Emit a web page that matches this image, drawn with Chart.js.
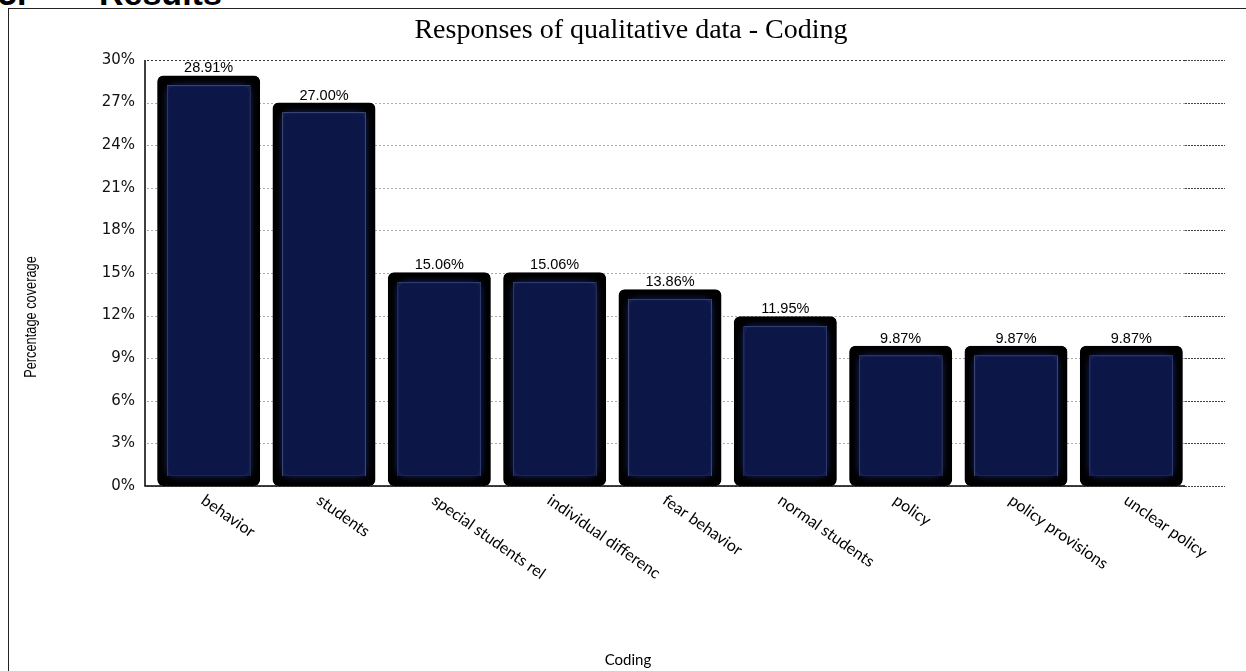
<!DOCTYPE html>
<html>
<head>
<meta charset="utf-8">
<script src="https://cdn.jsdelivr.net/npm/chart.js@4"></script>
<style>
  body { margin: 0; background: #fff; overflow: hidden; }
  #wrap { position: relative; width: 1246px; height: 671px; }
  #frame { position: absolute; left: 8px; top: 8px; width: 1260px; height: 700px; border: 1.5px solid #222; box-sizing: border-box; }
  .head { position: absolute; top: -26px; font: bold 34px "Liberation Sans", Arial, sans-serif; color: #000; }
  canvas { position: absolute; left: 0; top: 0; }
</style>
</head>
<body>
<div id="wrap">
  <div class="head" style="left:-2px">5.</div>
  <div class="head" style="left:99px">Results</div>
  <div id="frame"></div>
  <canvas id="codingChart" width="1246" height="671"></canvas>
</div>
<script>
const categories = [
  "behavior", "students", "special students rel", "individual differenc",
  "fear behavior", "normal students", "policy", "policy provisions", "unclear policy"
];
const coverage = [28.91, 27.00, 15.06, 15.06, 13.86, 11.95, 9.87, 9.87, 9.87];
const yMax = 30;
const yStep = 3;

const chartTitle = "Responses of qualitative data - Coding";
const xTitle = "Coding";
const yTitle = "Percentage coverage";

// axis lines sit a few px left of where the bars start, so draw them here
const axisLines = {
  id: "axisLines",
  beforeDatasetsDraw(chart) {
    const { ctx, chartArea, scales } = chart;
    const left = chartArea.left - 6;
    ctx.save();
    ctx.lineWidth = 1;
    scales.y.ticks.forEach((t) => {
      const y = Math.round(scales.y.getPixelForValue(t.value)) + 0.5;
      ctx.setLineDash([2, 2]);
      ctx.strokeStyle = t.value === yMax ? "#333" : "#aaa";
      ctx.beginPath();
      ctx.moveTo(left + 2, y);
      ctx.lineTo(chartArea.right - 4, y);
      ctx.stroke();
      ctx.setLineDash([2, 1]);
      ctx.strokeStyle = "#444";
      ctx.beginPath();
      ctx.moveTo(chartArea.right - 4, y);
      ctx.lineTo(chartArea.right + 36, y);
      ctx.stroke();
    });
    ctx.setLineDash([]);
    ctx.strokeStyle = "#000";
    ctx.lineWidth = 1.5;
    ctx.beginPath();
    ctx.moveTo(left, chartArea.top);
    ctx.lineTo(left, chartArea.bottom);
    ctx.lineTo(chartArea.right - 4, chartArea.bottom);
    ctx.stroke();
    ctx.restore();
  },
};

const textLayer = {
  id: "textLayer",
  afterDatasetsDraw(chart) {
    const { ctx, chartArea, scales } = chart;
    const meta = chart.getDatasetMeta(0);
    ctx.save();

    // soft inner glow on the bars
    meta.data.forEach((bar) => {
      const w = bar.width - 22;
      const left = bar.x - w / 2;
      const top = bar.y + 11;
      const h = bar.base - 11 - top;
      ctx.save();
      ctx.shadowColor = "rgba(35,55,140,0.9)";
      ctx.shadowBlur = 8;
      ctx.fillStyle = "#0d1747";
      ctx.beginPath();
      ctx.roundRect(left, top, w, h, 6);
      ctx.fill();
      ctx.restore();
    });

    // value labels
    ctx.fillStyle = "#000";
    ctx.font = "14.5px 'Liberation Sans', Arial, sans-serif";
    ctx.textAlign = "center";
    ctx.textBaseline = "alphabetic";
    meta.data.forEach((bar, i) => {
      ctx.fillText(coverage[i].toFixed(2) + "%", bar.x, bar.y - 3);
    });

    // category labels, turned clockwise
    ctx.font = "16px Lato, 'Open Sans', sans-serif";
    ctx.textAlign = "left";
    ctx.textBaseline = "top";
    categories.forEach((c, i) => {
      const x = scales.x.getPixelForValue(i);
      ctx.save();
      ctx.translate(x - 1, chartArea.bottom + 6);
      ctx.rotate((35 * Math.PI) / 180);
      ctx.fillText(c, 0, 0);
      ctx.restore();
    });

    // titles
    ctx.textAlign = "center";
    ctx.textBaseline = "middle";
    ctx.font = "28px 'Liberation Serif', 'Times New Roman', serif";
    ctx.fillText(chartTitle, 631, 31);

    ctx.font = "15px Lato, sans-serif";
    ctx.fillText(xTitle, 628, 660);

    // narrow look of the original y title
    ctx.save();
    ctx.translate(32, 317);
    ctx.rotate(-Math.PI / 2);
    ctx.scale(0.8, 1);
    ctx.font = "16px 'Liberation Sans', sans-serif";
    ctx.fillText(yTitle, 0, 0);
    ctx.restore();

    ctx.restore();
  },
};

new Chart(document.getElementById("codingChart"), {
  type: "bar",
  data: {
    labels: categories,
    datasets: [
      {
        label: "Percentage coverage",
        data: coverage,
        backgroundColor: "#0d1747",
        borderColor: "#000",
        borderWidth: 10,
        borderRadius: 6,
        borderSkipped: false,
        categoryPercentage: 1,
        barPercentage: 0.893,
      },
    ],
  },
  options: {
    responsive: false,
    animation: false,
    layout: { padding: { top: 60, right: 57, left: 0, bottom: 0 } },
    plugins: {
      legend: { display: false },
      title: { display: false },
      tooltip: { enabled: false },
    },
    scales: {
      x: {
        grid: { display: false },
        border: { display: false },
        ticks: { display: false },
        afterFit: (scale) => { scale.height = 671 - 486; },
      },
      y: {
        min: 0,
        max: yMax,
        grid: { display: false },
        border: { display: false },
        ticks: {
          stepSize: yStep,
          padding: 8,
          color: "#111",
          font: { family: "'DejaVu Sans', Verdana, sans-serif", size: 15 },
          callback: (v) => v + "%",
        },
        afterFit: (scale) => { scale.width = 151; },
      },
    },
  },
  plugins: [axisLines, textLayer],
});
</script>
</body>
</html>
